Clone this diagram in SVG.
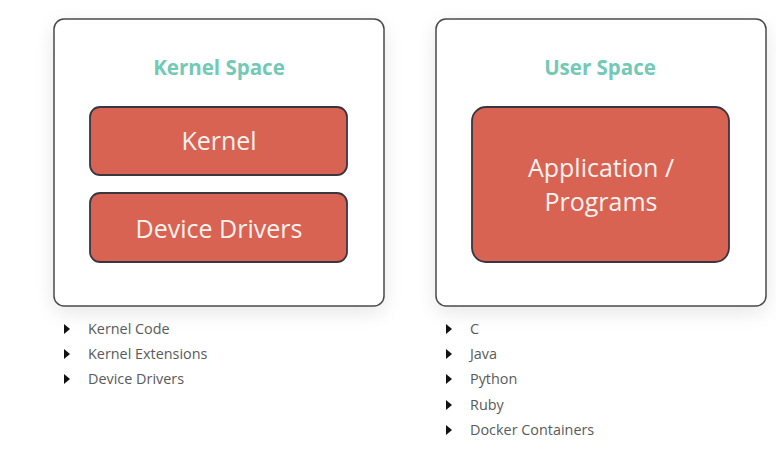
<svg xmlns="http://www.w3.org/2000/svg" width="776" height="453" viewBox="0 0 776 453">
<defs>
<filter id="sh" x="-10%" y="-10%" width="120%" height="125%">
<feGaussianBlur in="SourceAlpha" stdDeviation="10"/>
<feOffset dy="6"/>
<feComponentTransfer><feFuncA type="linear" slope="0.10"/></feComponentTransfer>
<feMerge><feMergeNode/><feMergeNode in="SourceGraphic"/></feMerge>
</filter>
<polygon id="tri" points="0,-5 6,0 0,5"/>
</defs>
<style>
.outer{fill:#fff;stroke:#4a4a4a;stroke-width:1.5}
.inner{fill:#d86352;stroke:#3a3640;stroke-width:1.8}
.title{font-family:"Open Sans",Lato,sans-serif;font-weight:bold;font-size:20.5px;fill:#72c9b6;text-anchor:middle}
.lbl{font-family:"Open Sans",Lato,sans-serif;font-size:25px;fill:#fdf2ef;text-anchor:middle}
.li{font-family:"Open Sans",Lato,sans-serif;font-size:14.4px;fill:#5a5a5a}
.b{fill:#111}
</style>
<rect width="776" height="453" fill="#fff"/>
<g id="kernel-space">
<rect class="outer" x="54" y="19" width="330" height="287" rx="10" filter="url(#sh)"/>
<text class="title" x="219" y="75">Kernel Space</text>
</g>
<g id="kernel">
<rect class="inner" x="90" y="107" width="257" height="68" rx="10"/>
<text class="lbl" x="219" y="150">Kernel</text>
</g>
<g id="device-drivers">
<rect class="inner" x="90" y="193" width="257" height="69" rx="10"/>
<text class="lbl" x="219" y="238">Device Drivers</text>
</g>
<g id="user-space">
<rect class="outer" x="436" y="19" width="330" height="287" rx="10" filter="url(#sh)"/>
<text class="title" x="600" y="75">User Space</text>
</g>
<g id="applications">
<rect class="inner" x="472" y="107" width="257" height="155" rx="14"/>
<text class="lbl" x="601" y="177">Application /</text>
<text class="lbl" x="601" y="211">Programs</text>
</g>
<g id="kernel-list">
<use href="#tri" class="b" x="64" y="329"/>
<use href="#tri" class="b" x="64" y="354"/>
<use href="#tri" class="b" x="64" y="379"/>
<text class="li" x="88" y="334">Kernel Code</text>
<text class="li" x="88" y="359">Kernel Extensions</text>
<text class="li" x="88" y="384">Device Drivers</text>
</g>
<g id="user-list">
<use href="#tri" class="b" x="446" y="329"/>
<use href="#tri" class="b" x="446" y="354"/>
<use href="#tri" class="b" x="446" y="379"/>
<use href="#tri" class="b" x="446" y="405"/>
<use href="#tri" class="b" x="446" y="430"/>
<text class="li" x="470" y="334">C</text>
<text class="li" x="470" y="359">Java</text>
<text class="li" x="470" y="384">Python</text>
<text class="li" x="470" y="410">Ruby</text>
<text class="li" x="470" y="435">Docker Containers</text>
</g>
<g id="connectors"></g>
</svg>
